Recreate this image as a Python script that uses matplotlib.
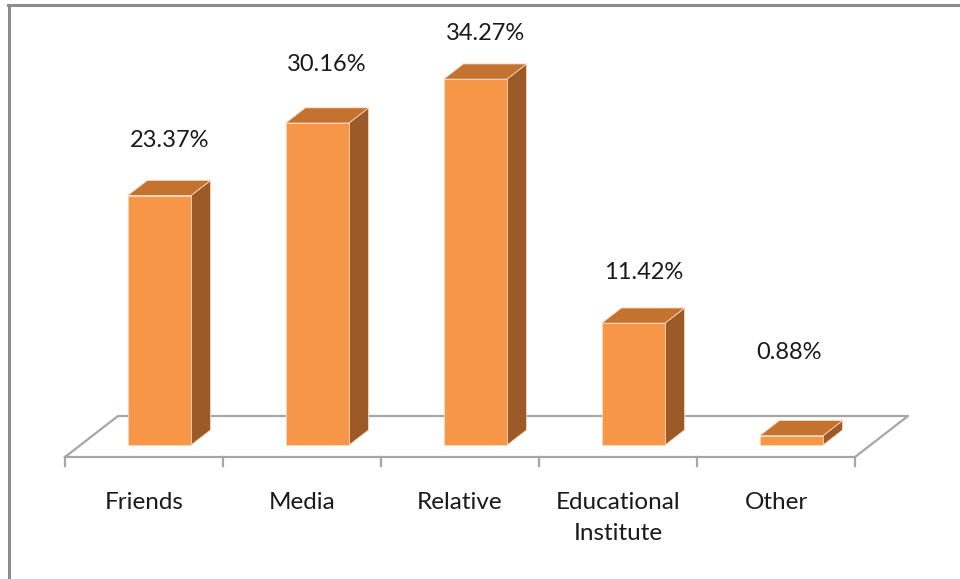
import matplotlib
matplotlib.use("Agg")
import matplotlib.pyplot as plt
from matplotlib.patches import Polygon
from matplotlib.lines import Line2D

# ---- data ----
categories = ["Friends", "Media", "Relative", "Educational\nInstitute", "Other"]
values = [23.37, 30.16, 34.27, 11.42, 0.88]
value_labels = ["23.37%", "30.16%", "34.27%", "11.42%", "0.88%"]

# ---- style / layout ----
W, H = 960, 579
PX_CAT = 158.0      # pixels per category
PX_PCT = 10.68      # pixels per percent
ORIG = (65.0, 457.0)  # pixel position of data (-0.5, 0)
DEPTH_PX = (53.0, 41.0)  # floor depth offset in pixels
DX = DEPTH_PX[0] / PX_CAT
DY = DEPTH_PX[1] / PX_PCT
BAR_W = 0.40
D0, D1 = 0.29, 0.66   # bar front/back depth fraction

FRONT = "#F79646"
TOP = "#C4722F"
SIDE = "#9B5A28"
FLOOR = "#A6A6A6"
BORDER = "#8C8C8C"

label_off = [(0, 55), (0, 59), (0, 46), (0, 51), (-12, 83)]  # pixel offsets from front-top center(+depth)

plt.rcParams['font.family'] = ['Lato', 'DejaVu Sans']
fig = plt.figure(figsize=(W / 100, H / 100), dpi=100)
ax = fig.add_axes([0, 0, 1, 1])
ax.set_xlim(-0.5 - ORIG[0] / PX_CAT, -0.5 + (W - ORIG[0]) / PX_CAT)
ax.set_ylim(-(H - ORIG[1]) / PX_PCT, ORIG[1] / PX_PCT)
ax.axis("off")

n = len(categories)
# floor
fl = [(-0.5, 0), (n - 0.5, 0), (n - 0.5 + DX, DY), (-0.5 + DX, DY), (-0.5, 0)]
ax.add_line(Line2D([p[0] for p in fl], [p[1] for p in fl], color=FLOOR, lw=1.6, zorder=1))
for k in range(n + 1):
    xt = -0.5 + k
    ax.add_line(Line2D([xt, xt], [0, -9 / PX_PCT], color=FLOOR, lw=1.6, zorder=1))

for i, (v, lab) in enumerate(zip(values, value_labels)):
    x0 = i - BAR_W / 2 + D0 * DX
    y0 = D0 * DY
    x1 = x0 + BAR_W
    ddx = (D1 - D0) * DX
    ddy = (D1 - D0) * DY
    front = [(x0, y0), (x1, y0), (x1, y0 + v), (x0, y0 + v)]
    side = [(x1, y0), (x1 + ddx, y0 + ddy), (x1 + ddx, y0 + v + ddy), (x1, y0 + v)]
    top = [(x0, y0 + v), (x1, y0 + v), (x1 + ddx, y0 + v + ddy), (x0 + ddx, y0 + v + ddy)]
    for poly, c in ((side, SIDE), (top, TOP), (front, FRONT)):
        ax.add_patch(Polygon(poly, closed=True, facecolor=c, edgecolor="#FBD9BE",
                             lw=0.6, zorder=3))
    ox, oy = label_off[i]
    ax.annotate(lab, (x0 + BAR_W / 2 + ddx / 2, y0 + v), xytext=(ox, oy),
                textcoords="offset pixels", ha="center", va="center",
                fontsize=17, color="#1a1a1a", zorder=5)
    ax.annotate(categories[i], (i, 0), xytext=(0, -35), textcoords="offset pixels",
                ha="center", va="top", fontsize=17.5, color="#1a1a1a",
                linespacing=1.6)

# outer border (top and left)
fig.add_artist(Line2D([8.5 / W, 8.5 / W], [0, 1 - 5 / H], color=BORDER, lw=2.2,
                      transform=fig.transFigure))
fig.add_artist(Line2D([7.5 / W, 1], [1 - 5 / H, 1 - 5 / H], color=BORDER, lw=2.2,
                      transform=fig.transFigure))

fig.savefig("out.png", dpi=100)
